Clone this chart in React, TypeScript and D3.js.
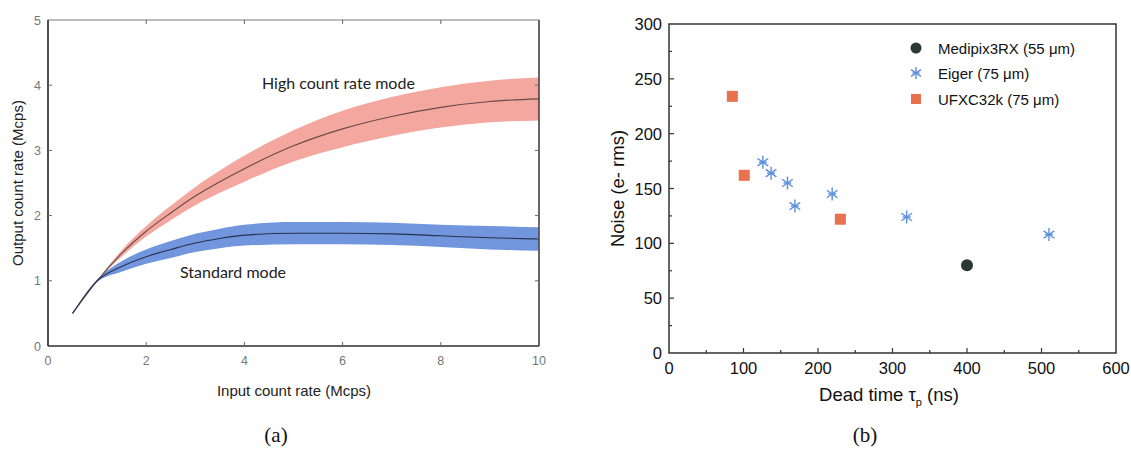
import React from "react";
import * as d3 from "d3";

// ---- Panel (a): output vs input count rate ----
const inputRate = [0.5, 1, 1.5, 2, 2.5, 3, 3.5, 4, 5, 6, 7, 8, 9, 10];
const highMode = [0.5, 1.0, 1.42, 1.76, 2.04, 2.3, 2.52, 2.72, 3.07, 3.33, 3.52, 3.66, 3.75, 3.79];
const highSpread = [0, 0, 0.05, 0.08, 0.11, 0.14, 0.17, 0.2, 0.24, 0.28, 0.3, 0.31, 0.32, 0.33];
const standardMode = [0.5, 1.0, 1.22, 1.37, 1.48, 1.58, 1.65, 1.7, 1.73, 1.73, 1.72, 1.69, 1.66, 1.64];
const standardSpread = [0, 0.02, 0.08, 0.11, 0.13, 0.14, 0.15, 0.16, 0.17, 0.17, 0.17, 0.17, 0.18, 0.18];
const aXTicks = [0, 2, 4, 6, 8, 10];
const aYTicks = [0, 1, 2, 3, 4, 5];

// ---- Panel (b): noise vs dead time ----
const medipixDead = [400];
const medipixNoise = [80];
const eigerDead = [126, 137, 159, 169, 219, 319, 510];
const eigerNoise = [174, 164, 155, 134, 145, 124, 108];
const ufxcDead = [85, 101, 230];
const ufxcNoise = [234, 162, 122];
const bXTicks = [0, 100, 200, 300, 400, 500, 600];
const bYTicks = [0, 50, 100, 150, 200, 250, 300];
const legendLabels = ["Medipix3RX (55 \u03bcm)", "Eiger (75 \u03bcm)", "UFXC32k (75 \u03bcm)"];

const sans = "Liberation Sans, Arial, sans-serif";
const serif = "Liberation Serif, Times New Roman, serif";
const humanist = "Lato, Open Sans, sans-serif";

function Star({ cx, cy, r, color }: { cx: number; cy: number; r: number; color: string }) {
  const angles = [90, 35, 145, 0];
  return (
    <g stroke={color} strokeWidth={1.4}>
      {angles.map((a, i) => {
        const rr = i === 3 ? r * 0.6 : r;
        const dx = Math.cos((a * Math.PI) / 180) * rr;
        const dy = Math.sin((a * Math.PI) / 180) * rr;
        return <line key={a} x1={cx - dx} y1={cy - dy} x2={cx + dx} y2={cy + dy} />;
      })}
    </g>
  );
}

function PanelA() {
  const x = d3.scaleLinear().domain([0, 10]).range([48, 539]);
  const y = d3.scaleLinear().domain([0, 5]).range([346, 20]);
  const idx = d3.range(inputRate.length);
  const area = (vals: number[], sp: number[]) =>
    d3
      .area<number>()
      .x((i) => x(inputRate[i]))
      .y0((i) => y(vals[i] - sp[i]))
      .y1((i) => y(vals[i] + sp[i]))
      .curve(d3.curveMonotoneX)(idx) || "";
  const line = (vals: number[]) =>
    d3
      .line<number>()
      .x((i) => x(inputRate[i]))
      .y((i) => y(vals[i]))
      .curve(d3.curveMonotoneX)(idx) || "";
  const [x0, x1] = x.range();
  const [y0, y1] = y.range();
  return (
    <g>
      <path d={area(highMode, highSpread)} fill="#f4a79f" />
      <path d={area(standardMode, standardSpread)} fill="#7196de" />
      <path d={line(highMode)} fill="none" stroke="#6a4a48" strokeWidth={1.1} />
      <path d={line(standardMode)} fill="none" stroke="#27324f" strokeWidth={1.1} />
      {/* frame */}
      <rect x={x0} y={y1} width={x1 - x0} height={y0 - y1} fill="none" stroke="#7a7a7a" strokeWidth={1} />
      <line x1={x0} y1={y0} x2={x0} y2={y1} stroke="#333" strokeWidth={1.6} />
      <line x1={x0} y1={y0} x2={x1} y2={y0} stroke="#444" strokeWidth={1.6} />
      <line x1={x1} y1={y0} x2={x1} y2={y1} stroke="#444" strokeWidth={1.4} />
      {aXTicks.slice(1, -1).map((t) => (
        <g key={"ax" + t} stroke="#666" strokeWidth={1}>
          <line x1={x(t)} x2={x(t)} y1={y0} y2={y0 - 4} />
          <line x1={x(t)} x2={x(t)} y1={y1} y2={y1 + 4} />
        </g>
      ))}
      {aYTicks.slice(1, -1).map((t) => (
        <g key={"ay" + t} stroke="#666" strokeWidth={1}>
          <line x1={x0} x2={x0 + 4} y1={y(t)} y2={y(t)} />
          <line x1={x1} x2={x1 - 4} y1={y(t)} y2={y(t)} />
        </g>
      ))}
      {aXTicks.map((t) => (
        <text key={"axl" + t} x={x(t)} y={365} textAnchor="middle" fontFamily={sans} fontSize={12.5} fill="#777">
          {t}
        </text>
      ))}
      {aYTicks.map((t) => (
        <text key={"ayl" + t} x={41} y={y(t) + 4.5} textAnchor="end" fontFamily={sans} fontSize={12.5} fill="#777">
          {t}
        </text>
      ))}
      <text x={294} y={396} textAnchor="middle" fontFamily={sans} fontSize={15} fill="#222">
        Input count rate (Mcps)
      </text>
      <text
        transform={`translate(23,${(y0 + y1) / 2}) rotate(-90)`}
        textAnchor="middle"
        fontFamily={sans}
        fontSize={15}
        fill="#222"
      >
        Output count rate (Mcps)
      </text>
      <text x={262} y={89} fontFamily={humanist} fontSize={16} fill="#222">
        High count rate mode
      </text>
      <text x={180} y={278} fontFamily={humanist} fontSize={16} fill="#222">
        Standard mode
      </text>
      <text x={276} y={442} textAnchor="middle" fontFamily={serif} fontSize={21} fill="#111">
        (a)
      </text>
    </g>
  );
}

function PanelB() {
  const x = d3.scaleLinear().domain([0, 600]).range([669, 1116]);
  const y = d3.scaleLinear().domain([0, 300]).range([353, 24]);
  const [x0, x1] = x.range();
  const [y0, y1] = y.range();
  const minorX = d3.range(50, 600, 100);
  const minorY = d3.range(25, 300, 50);
  const orange = "#e8714f";
  const blue = "#5b8fdb";
  const dark = "#2b3833";
  return (
    <g>
      <rect x={x0} y={y1} width={x1 - x0} height={y0 - y1} fill="none" stroke="#333" strokeWidth={1.5} />
      {bXTicks.slice(1, -1).map((t) => (
        <line key={"bx" + t} x1={x(t)} x2={x(t)} y1={y0} y2={y0 - 5} stroke="#333" strokeWidth={1.2} />
      ))}
      {minorX.map((t) => (
        <line key={"bmx" + t} x1={x(t)} x2={x(t)} y1={y0} y2={y0 - 3} stroke="#333" strokeWidth={1.2} />
      ))}
      {bYTicks.slice(1, -1).map((t) => (
        <line key={"by" + t} x1={x0} x2={x0 + 5} y1={y(t)} y2={y(t)} stroke="#333" strokeWidth={1.2} />
      ))}
      {minorY.map((t) => (
        <line key={"bmy" + t} x1={x0} x2={x0 + 3} y1={y(t)} y2={y(t)} stroke="#333" strokeWidth={1.2} />
      ))}
      {bXTicks.map((t) => (
        <text key={"bxl" + t} x={x(t)} y={374} textAnchor="middle" fontFamily={sans} fontSize={16.5} fill="#111">
          {t}
        </text>
      ))}
      {bYTicks.map((t) => (
        <text key={"byl" + t} x={662} y={y(t) + 6} textAnchor="end" fontFamily={sans} fontSize={16.5} fill="#111">
          {t}
        </text>
      ))}
      <text x={889} y={401} textAnchor="middle" fontFamily={sans} fontSize={18.5} fill="#111">
        Dead time {"\u03c4"}
        <tspan fontSize={11} dy={5}>p</tspan>
        <tspan dy={-5}> (ns)</tspan>
      </text>
      <text
        transform={`translate(624,${(y0 + y1) / 2}) rotate(-90)`}
        textAnchor="middle"
        fontFamily={sans}
        fontSize={18.5}
        fill="#111"
      >
        Noise (e- rms)
      </text>
      {ufxcDead.map((d, i) => (
        <rect key={"u" + i} x={x(d) - 5.5} y={y(ufxcNoise[i]) - 5.5} width={11} height={11} fill={orange} />
      ))}
      {eigerDead.map((d, i) => (
        <Star key={"e" + i} cx={x(d)} cy={y(eigerNoise[i])} r={6.5} color={blue} />
      ))}
      {medipixDead.map((d, i) => (
        <circle key={"m" + i} cx={x(d)} cy={y(medipixNoise[i])} r={6} fill={dark} />
      ))}
      {/* legend */}
      <circle cx={916} cy={48} r={5.5} fill={dark} />
      <Star cx={916} cy={73} r={6} color={blue} />
      <rect x={911} y={94} width={10} height={10} fill={orange} />
      {legendLabels.map((l, i) => (
        <text key={l} x={938} y={[48, 73, 99][i] + 5.5} fontFamily={sans} fontSize={15} fill="#111">
          {l}
        </text>
      ))}
      <text x={865} y={442} textAnchor="middle" fontFamily={serif} fontSize={21} fill="#111">
        (b)
      </text>
    </g>
  );
}

export default function App() {
  return (
    <svg
      width={1131}
      height={456}
      viewBox="0 0 1131 456"
      style={{ position: "absolute", left: 0, top: 0, background: "#fff" }}
    >
      <rect width={1131} height={456} fill="#fff" />
      <PanelA />
      <PanelB />
    </svg>
  );
}
